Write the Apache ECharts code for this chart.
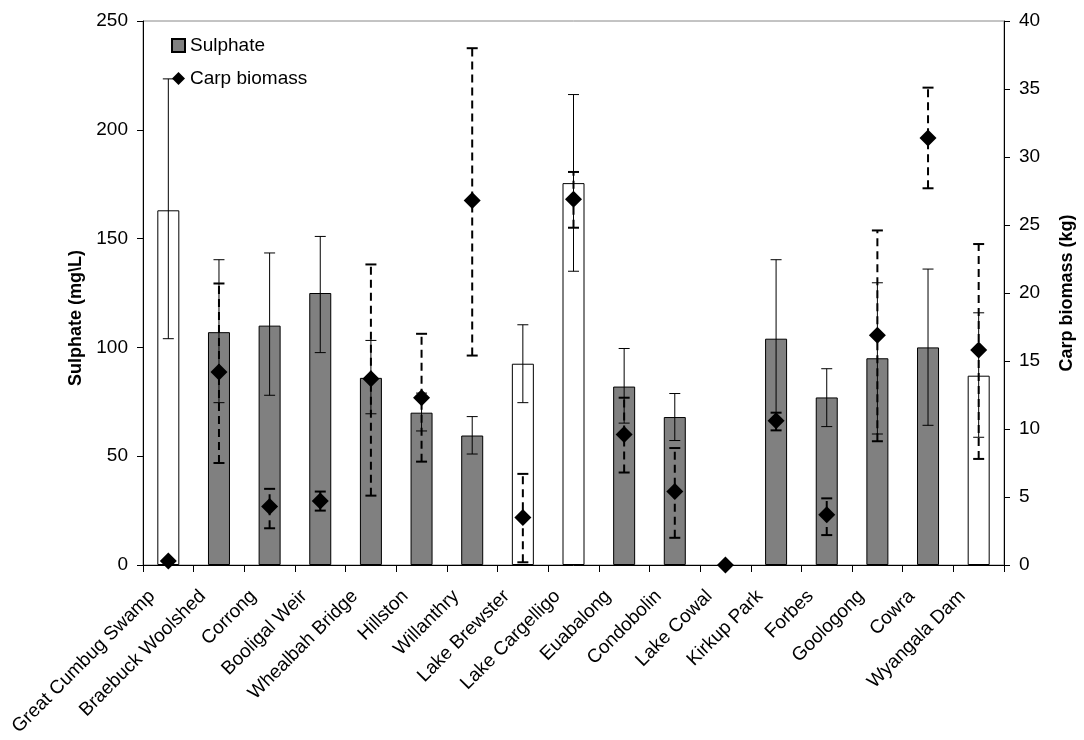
<!DOCTYPE html>
<html>
<head>
<meta charset="utf-8">
<script src="https://cdn.jsdelivr.net/npm/echarts@6/dist/echarts.min.js"></script>
<style>
html,body{margin:0;padding:0;background:#fff;}
#chart{width:1084px;height:740px;}
</style>
</head>
<body>
<div id="chart"></div>
<script>
// ---- data ----
const categories = ['Great Cumbug Swamp','Braebuck Woolshed','Corrong','Booligal Weir','Whealbah Bridge','Hillston','Willanthry','Lake Brewster','Lake Cargelligo','Euabalong','Condobolin','Lake Cowal','Kirkup Park','Forbes','Goologong','Cowra','Wyangala Dam'];
const sulphate     = [163, 107, 110, 125, 86, 70, 59.5, 92.5, 175.5, 82, 68, null, 104, 77, 95, 100, 87];
const sulphateLow  = [104, 74.6, 78, 97.6, 69.5, 61.6, 51, 74.6, 135, 65.2, 57.2, null, 67.3, 63.6, 60.2, 64.2, 58.7];
const sulphateHigh = [223.4, 140.3, 143.4, 151, 103.2, 79, 68.2, 110.4, 216.2, 99.5, 78.8, null, 140.3, 90.2, 129.7, 136, 115.9];
const carp     = [0.3, 14.2, 4.3, 4.7, 13.7, 12.3, 26.8, 3.5, 26.9, 9.6, 5.4, 0, 10.6, 3.7, 16.9, 31.4, 15.8];
const carpLow  = [null, 7.5, 2.7, 4.0, 5.1, 7.6, 15.4, 0.2, 24.8, 6.8, 2.0, null, 9.9, 2.2, 9.1, 27.7, 7.8];
const carpHigh = [null, 20.7, 5.6, 5.4, 22.1, 17.0, 38.0, 6.7, 28.9, 12.3, 8.6, null, 11.2, 4.9, 24.6, 35.1, 23.6];
const hollowSites = ['Great Cumbug Swamp','Lake Brewster','Lake Cargelligo','Wyangala Dam'];
const leftTicks = [0, 50, 100, 150, 200, 250];
const rightTicks = [0, 5, 10, 15, 20, 25, 30, 35, 40];

// ---- build ----
const FONT = '"Liberation Sans", Arial, sans-serif';
const barData = categories.map((c, i) => ({
  value: sulphate[i],
  itemStyle: hollowSites.indexOf(c) >= 0 ? {color: '#ffffff'} : undefined
}));
const sErr = categories.map((c, i) => [i, sulphateLow[i], sulphateHigh[i]]).filter(d => d[1] != null);
const cErr = categories.map((c, i) => [i, carpLow[i], carpHigh[i]]).filter(d => d[1] != null);

function errRender(lineWidth, dash) {
  return function (params, api) {
    const x = api.value(0);
    const lo = api.coord([x, api.value(1)]);
    const hi = api.coord([x, api.value(2)]);
    const cap = 5.5;
    const style = {stroke: '#000', lineWidth: lineWidth, lineDash: dash, fill: null};
    return {
      type: 'group',
      children: [
        {type: 'line', shape: {x1: lo[0], y1: lo[1], x2: hi[0], y2: hi[1]}, style: style},
        {type: 'line', shape: {x1: hi[0] - cap, y1: hi[1], x2: hi[0] + cap, y2: hi[1]}, style: {stroke: '#000', lineWidth: lineWidth}},
        {type: 'line', shape: {x1: lo[0] - cap, y1: lo[1], x2: lo[0] + cap, y2: lo[1]}, style: {stroke: '#000', lineWidth: lineWidth}}
      ]
    };
  };
}

const chart = echarts.init(document.getElementById('chart'), null, {renderer: 'canvas'});
chart.setOption({
  animation: false,
  backgroundColor: '#fff',
  textStyle: {fontFamily: FONT, color: '#000'},
  grid: {left: 143, right: 73, top: 21, bottom: 175, show: true, borderColor: '#888', borderWidth: 1, backgroundColor: 'transparent'},
  legend: {
    orient: 'vertical', left: 166, top: 31, itemGap: 14, itemWidth: 13, itemHeight: 13,
    textStyle: {fontSize: 19, fontFamily: FONT, color: '#000'},
    data: [{name: 'Sulphate', icon: 'rect'}, {name: 'Carp biomass', icon: 'diamond'}]
  },
  xAxis: {
    type: 'category', data: categories, boundaryGap: true,
    axisLine: {lineStyle: {color: '#000', width: 1}},
    axisTick: {show: true, interval: 0, length: 7, lineStyle: {color: '#000'}},
    axisLabel: {interval: 0, rotate: 45, fontSize: 19, color: '#000', fontFamily: FONT, margin: 12, padding: [0, 23, 0, 0]}
  },
  yAxis: [
    {
      type: 'value', min: leftTicks[0], max: leftTicks[leftTicks.length - 1], interval: 50,
      name: 'Sulphate (mg\\L)', nameLocation: 'middle', nameRotate: 90, nameGap: 52,
      nameTextStyle: {fontSize: 18, fontWeight: 'bold', color: '#000', fontFamily: FONT, padding: [0, 50, 0, 0]},
      axisLine: {show: true, lineStyle: {color: '#000'}},
      axisTick: {show: true, length: 6, lineStyle: {color: '#000'}},
      axisLabel: {fontSize: 19, color: '#000', fontFamily: FONT, margin: 15},
      splitLine: {show: false}
    },
    {
      type: 'value', min: rightTicks[0], max: rightTicks[rightTicks.length - 1], interval: 5, position: 'right',
      name: 'Carp biomass (kg)', nameLocation: 'middle', nameRotate: 90, nameGap: 54,
      nameTextStyle: {fontSize: 18, fontWeight: 'bold', color: '#000', fontFamily: FONT},
      axisLine: {show: true, lineStyle: {color: '#000'}},
      axisTick: {show: true, length: 6, lineStyle: {color: '#000'}},
      axisLabel: {fontSize: 19, color: '#000', fontFamily: FONT, margin: 15},
      splitLine: {show: false}
    }
  ],
  series: [
    {
      name: 'Sulphate', type: 'bar', yAxisIndex: 0, barWidth: 22, data: barData,
      itemStyle: {color: '#808080', borderColor: '#000', borderWidth: 1}, z: 2
    },
    {
      name: 'Sulphate err', type: 'custom', yAxisIndex: 0, data: sErr,
      renderItem: errRender(1, null), encode: {x: 0, y: [1, 2]}, z: 3, silent: true
    },
    {
      name: 'Carp err', type: 'custom', yAxisIndex: 1, data: cErr,
      renderItem: errRender(2, [8, 5]), encode: {x: 0, y: [1, 2]}, z: 4, silent: true
    },
    {
      name: 'Carp biomass', type: 'scatter', yAxisIndex: 1, data: carp,
      symbol: 'diamond', symbolSize: 17, itemStyle: {color: '#000', opacity: 1}, z: 5
    }
  ]
});
</script>
</body>
</html>
